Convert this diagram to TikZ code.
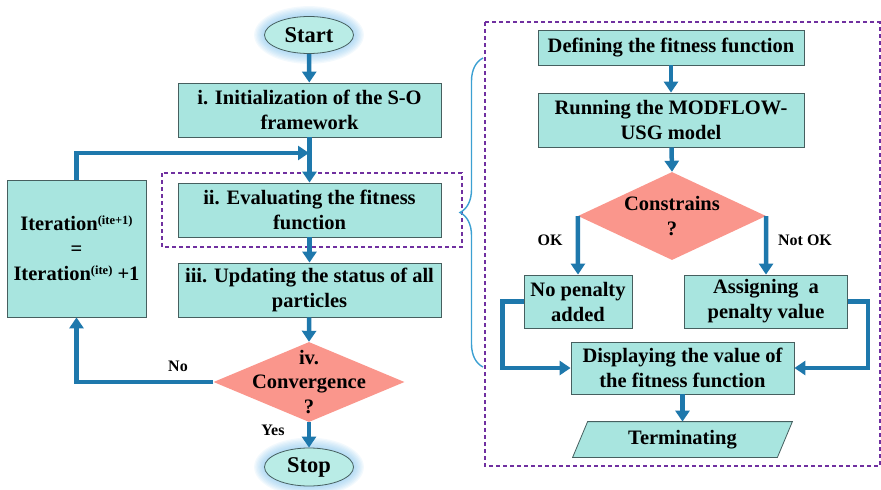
\documentclass[tikz,border=0pt]{standalone}
\usepackage{fontspec}
\setmainfont{Liberation Serif}
\usetikzlibrary{arrows.meta,shapes.geometric,decorations.pathreplacing}
\definecolor{boxfill}{RGB}{168,229,223}
\definecolor{boxline}{RGB}{70,95,95}
\definecolor{arrc}{RGB}{30,120,172}
\definecolor{diafill}{RGB}{250,150,140}
\definecolor{purp}{RGB}{112,48,160}
\definecolor{glowc}{RGB}{120,190,235}
\definecolor{bracec}{RGB}{60,160,210}
\definecolor{ovalfill}{RGB}{185,236,230}
\newcommand{\supx}[1]{\raisebox{6.5pt}{\fontsize{12.5}{13}\selectfont #1}}
\begin{document}
\begin{tikzpicture}[x=1pt,y=-1pt,
  box/.style={draw=boxline, fill=boxfill, line width=0.8pt, align=center,
    font=\bfseries\fontsize{20.5}{25}\selectfont, inner sep=0pt},
  oval/.style={ellipse, draw=boxline, fill=ovalfill, line width=0.8pt,
    font=\bfseries\fontsize{22.5}{25}\selectfont, inner sep=0pt},
  dia/.style={diamond, draw=none, fill=diafill, inner sep=0pt},
  dtext/.style={align=center, font=\bfseries\fontsize{20.5}{24.5}\selectfont, inner sep=0pt},
  lbl/.style={font=\bfseries\fontsize{16}{18}\selectfont, inner sep=0pt},
  arr/.style={draw=arrc, line width=4.5pt, -{Triangle[width=14pt,length=11pt]}},
  dashbox/.style={draw=purp, line width=2pt, dash pattern=on 4pt off 3pt}]
\useasboundingbox (0,0) rectangle (881,490);

% dashed frames and brace
\draw[dashbox] (162,173) rectangle (462,247);
\draw[dashbox] (485,22) rectangle (879.5,466);
\draw[bracec, line width=1.4pt, decorate, decoration={brace, amplitude=23pt, aspect=0.5}] (483,367) -- (483,58);

% glows
\coordinate (startc) at (309,35);
\coordinate (stopc) at (309,467);
\foreach \k in {1,...,8}{
  \fill[glowc, opacity=0.09] (startc) ellipse [x radius={44.5+\k*1.3}, y radius={18.5+\k*1.3}];
  \fill[glowc, opacity=0.09] (stopc) ellipse [x radius={44.5+\k*1.3}, y radius={19+\k*1.3}];
}

% left column
\node[oval, minimum width=89pt, minimum height=37pt] (start) at (startc) {Start};
\node[box, minimum width=263pt, minimum height=54pt] (i) at (309.5,110) {i. Initialization of the S-O\\framework};
\node[box, minimum width=263pt, minimum height=54pt] (ii) at (309.5,210) {ii. Evaluating the fitness\\function};
\node[box, minimum width=263pt, minimum height=54pt] (iii) at (309.5,290) {iii. Updating the status of all\\particles};
\node[box, minimum width=139pt, minimum height=137pt] (iter) at (76.5,248.5)
  {Iteration\supx{(ite+1)}\\=\\Iteration\supx{(ite)} +1};
\node[dia, minimum width=191pt, minimum height=80pt] (conv) at (309,382) {};
\node[dtext] (convt) at (conv.center) {iv.\\Convergence\\?};
\node[oval, minimum width=89pt, minimum height=38pt] (stop) at (stopc) {Stop};
\coordinate (j) at (309,153);

\draw[arr] (start) -- (i);
\draw[arr] (i) -- (ii);
\draw[arr] (iter.north) |- (j);
\draw[arr] (ii) -- (iii);
\draw[arr] (iii) -- (conv.north);
\draw[arr] (conv.south) -- (stop);
\draw[arr] (conv.west) -| (iter.south);
\node[lbl] (no) at (178,366) {No};
\node[lbl] (yes) at (273,430) {Yes};

% right panel
\node[box, minimum width=266pt, minimum height=35pt] (def) at (671,47.5) {Defining the fitness function};
\node[box, minimum width=266pt, minimum height=54pt] (run) at (671,120) {Running the MODFLOW-\\USG model};
\node[dia, minimum width=188pt, minimum height=88pt] (cons) at (672,216) {};
\node[dtext] (const) at (cons.center) {Constrains\\?};
\node[box, minimum width=108pt, minimum height=53pt] (nopen) at (578,301.5) {No penalty\\added};
\node[box, minimum width=163pt, minimum height=53pt] (assign) at (766,301.5) {Assigning\ \ a\\penalty value};
\node[box, minimum width=223pt, minimum height=52pt] (disp) at (682.5,368) {Displaying the value of\\the fitness function};
\node[box, draw=none, fill=none, minimum width=204pt, minimum height=35pt] (term) at (682.5,439.5) {};
\draw[boxline, fill=boxfill, line width=0.8pt]
  ([xshift=7.5pt]term.north west) -- ([xshift=7.5pt]term.north east)
  -- ([xshift=-7.5pt]term.south east) -- ([xshift=-7.5pt]term.south west) -- cycle;
\node[dtext] (termt) at (term.center) {Terminating};

\draw[arr] (def) -- (run);
\draw[arr] (run) -- (cons.north);
\draw[arr] (cons.west) -- (nopen.north);
\draw[arr] (cons.east) -- (assign.north);
\draw[arr] (nopen.west) -- ++(-21,0) |- (disp.west);
\draw[arr] (assign.east) -- ++(20,0) |- (disp.east);
\draw[arr] (disp) -- (term.north);
\node[lbl] (ok) at (550,240) {OK};
\node[lbl] (nok) at (805,240) {Not OK};
\end{tikzpicture}
\end{document}
